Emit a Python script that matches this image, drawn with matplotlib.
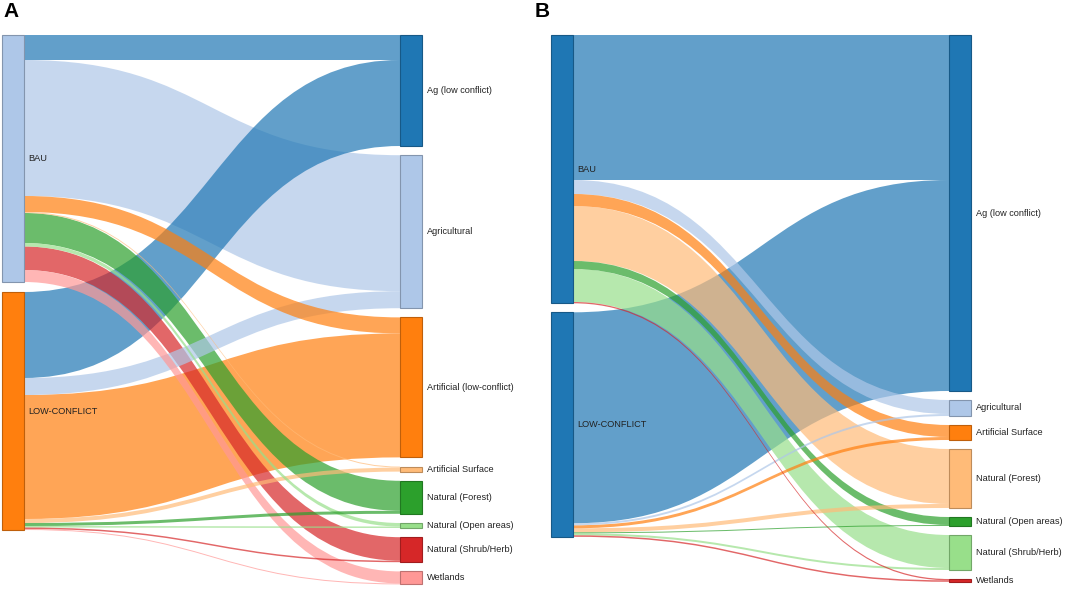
import matplotlib
matplotlib.use("Agg")
import matplotlib.pyplot as plt
from matplotlib.path import Path
from matplotlib.patches import PathPatch, Rectangle
from matplotlib.colors import to_rgb

plt.rcParams["font.family"] = ["Liberation Sans", "DejaVu Sans"]

# scenario (source) nodes
sources = ["BAU", "LOW-CONFLICT"]

# panel A
targets_a = ["Ag (low conflict)", "Agricultural", "Artificial (low-conflict)",
             "Artificial Surface", "Natural (Forest)", "Natural (Open areas)",
             "Natural (Shrub/Herb)", "Wetlands"]
bau_a = [25, 136, 16, 1, 30, 3.5, 23.5, 12]
lowc_a = [86, 17, 124, 4, 3, 1.5, 1.5, 1]
src_colors_a = ["#aec7e8", "#ff7f0e"]
tgt_colors_a = ["#1f77b4", "#aec7e8", "#ff7f0e", "#ffbb78",
                "#2ca02c", "#98df8a", "#d62728", "#ff9896"]

# panel B
targets_b = ["Ag (low conflict)", "Agricultural", "Artificial Surface",
             "Natural (Forest)", "Natural (Open areas)", "Natural (Shrub/Herb)",
             "Wetlands"]
bau_b = [145, 14, 12, 55, 8, 33, 1.3]
lowc_b = [211, 2, 3, 4, 1, 2, 1.5]
src_colors_b = ["#1f77b4", "#1f77b4"]
tgt_colors_b = ["#1f77b4", "#aec7e8", "#ff7f0e", "#ffbb78",
                "#2ca02c", "#98df8a", "#d62728"]


def darker(c, f=0.75):
    r, g, b = to_rgb(c)
    return (r * f, g * f, b * f)


def stack(values, top, pad):
    ys = []
    y = top
    for v in values:
        ys.append(y)
        y += v + pad
    return ys


def sankey(ax, flows, tgts, src_cols, tgt_cols, xl, xr, top, pad_l, pad_r, nw=22):
    src_tot = [sum(f) for f in flows]
    tgt_tot = [sum(f[j] for f in flows) for j in range(len(tgts))]
    src_y = stack(src_tot, top, pad_l)
    tgt_y = stack(tgt_tot, top, pad_r)

    x0 = xl + nw
    x1 = xr
    xm = (x0 + x1) / 2
    in_off = list(tgt_y)
    links = []
    for i, f in enumerate(flows):
        out = src_y[i]
        for j, v in enumerate(f):
            links.append((v, out, in_off[j], j))
            out += v
            in_off[j] += v

    # wide links first, thin ones on top (like d3 sankey)
    for v, a0, b0, j in sorted(links, key=lambda l: -l[0]):
        a1, b1 = a0 + v, b0 + v
        verts = [(x0, a0), (xm, a0), (xm, b0), (x1, b0),
                 (x1, b1), (xm, b1), (xm, a1), (x0, a1), (x0, a0)]
        codes = [Path.MOVETO, Path.CURVE4, Path.CURVE4, Path.CURVE4,
                 Path.LINETO, Path.CURVE4, Path.CURVE4, Path.CURVE4,
                 Path.CLOSEPOLY]
        ax.add_patch(PathPatch(Path(verts, codes), facecolor=tgt_cols[j],
                               edgecolor="none", alpha=0.7, zorder=1))

    for i, name in enumerate(sources):
        ax.add_patch(Rectangle((xl, src_y[i]), nw, src_tot[i], facecolor=src_cols[i],
                               edgecolor=darker(src_cols[i]), lw=0.8, zorder=3))
        ax.text(x0 + 4, src_y[i] + src_tot[i] / 2, name, fontsize=6.6,
                color="#222222", va="center", ha="left", zorder=4)
    for j, name in enumerate(tgts):
        ax.add_patch(Rectangle((xr, tgt_y[j]), nw, tgt_tot[j], facecolor=tgt_cols[j],
                               edgecolor=darker(tgt_cols[j]), lw=0.8, zorder=3))
        ax.text(xr + nw + 5, tgt_y[j] + tgt_tot[j] / 2, name, fontsize=6.6,
                color="#222222", va="center", ha="left", zorder=4)


fig = plt.figure(figsize=(10.65, 5.93), dpi=100)
ax = fig.add_axes([0, 0, 1, 1])
ax.set_xlim(0, 1065)
ax.set_ylim(593, 0)
ax.axis("off")

sankey(ax, [bau_a, lowc_a], targets_a, src_colors_a, tgt_colors_a,
       xl=2, xr=400, top=35, pad_l=10, pad_r=9.2)
sankey(ax, [bau_b, lowc_b], targets_b, src_colors_b, tgt_colors_b,
       xl=551, xr=949, top=35, pad_l=9, pad_r=9)

ax.text(3, 2, "A", fontsize=15, fontweight="bold", va="top", ha="left")
ax.text(535, 2, "B", fontsize=15, fontweight="bold", va="top", ha="left")

fig.savefig("out.png", dpi=100)
